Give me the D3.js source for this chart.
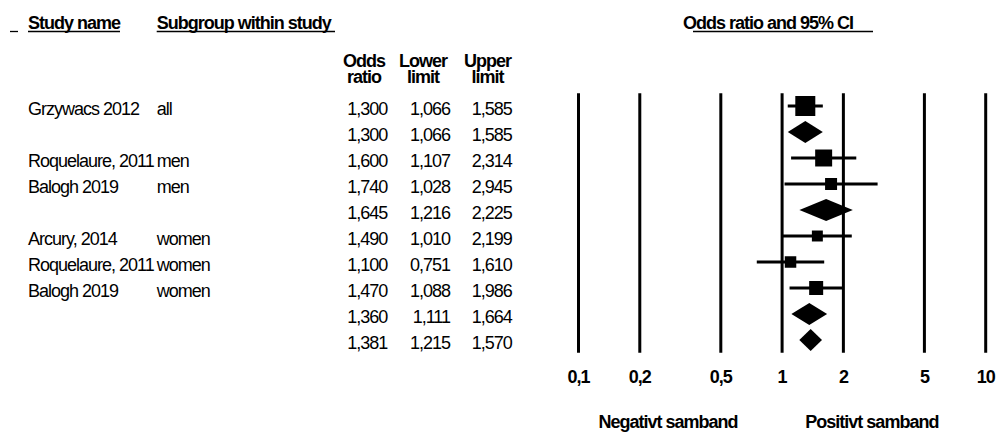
<!DOCTYPE html>
<html>
<head>
<meta charset="utf-8">
<script src="https://cdn.jsdelivr.net/npm/d3@7/dist/d3.min.js"></script>
<style>
  html, body { margin: 0; padding: 0; background: #fff; }
  svg { display: block; }
  text { font-family: "Liberation Sans", Arial, sans-serif; fill: #000; letter-spacing: -1px; }
</style>
</head>
<body>
<svg id="chart" width="997" height="432"></svg>
<script>
// Rows of the forest plot, top to bottom ("" = pooled subgroup / overall line)
const studyNames = ["Grzywacs 2012", "", "Roquelaure, 2011", "Balogh 2019", "", "Arcury, 2014", "Roquelaure, 2011", "Balogh 2019", "", ""];
const subgroups  = ["all", "", "men", "men", "", "women", "women", "women", "", ""];
const oddsRatio  = [1.300, 1.300, 1.600, 1.740, 1.645, 1.490, 1.100, 1.470, 1.360, 1.381];
const lowerLimit = [1.066, 1.066, 1.107, 1.028, 1.216, 1.010, 0.751, 1.088, 1.111, 1.215];
const upperLimit = [1.585, 1.585, 2.314, 2.945, 2.225, 2.199, 1.610, 1.986, 1.664, 1.570];
const isSummary  = [false, true, false, false, true, false, false, false, true, true];
// Relative study weight (largest = 100), shown as the box area
const relWeight  = [100, 0, 72, 36, 0, 30, 33, 49, 0, 0];
const tickValues = [0.1, 0.2, 0.5, 1, 2, 5, 10];
const tickLabels = ["0,1", "0,2", "0,5", "1", "2", "5", "10"];
const sideLabels = [
  { text: "Negativt samband", at: 0.275 },
  { text: "Positivt samband", at: 2.76 }
];

const svg = d3.select("#chart");
const nRows = oddsRatio.length;

const x = d3.scaleLog().domain([0.1, 10]).range([578.5, 985.7]);
const y = d3.scaleLinear().domain([0, nRows - 1]).range([106, 340]);
const box = d3.scaleSqrt().domain([0, 100]).range([0, 20]);
const fmt = v => d3.format(".3f")(v).replace(".", ",");

const txtDy = 9;

// ---- column headers ----
function underlinedHeader(label, xStart, yBase, lineFrom, lineTo) {
  svg.append("text").attr("x", xStart).attr("y", yBase)
    .attr("font-size", 18).attr("font-weight", "bold").text(label);
  svg.append("line").attr("x1", lineFrom).attr("x2", lineTo)
    .attr("y1", yBase + 2.5).attr("y2", yBase + 2.5)
    .attr("stroke", "#000").attr("stroke-width", 1.3);
}
svg.append("line").attr("x1", 10).attr("x2", 18).attr("y1", 31.5).attr("y2", 31.5)
  .attr("stroke", "#000").attr("stroke-width", 1.3);
underlinedHeader("Study name", 28, 29, 28, 120);
underlinedHeader("Subgroup within study", 156.7, 29, 156.7, 335);
underlinedHeader("Odds ratio and 95% CI", 683, 29, 693, 873);

const numCols = [
  { top: "Odds",  bottom: "ratio", center: 364,   right: 387.3, values: oddsRatio },
  { top: "Lower", bottom: "limit", center: 423,   right: 450,   values: lowerLimit },
  { top: "Upper", bottom: "limit", center: 487.5, right: 511.7, values: upperLimit }
];
numCols.forEach(c => {
  svg.append("text").attr("x", c.center).attr("y", 67).attr("text-anchor", "middle")
    .attr("font-size", 18).attr("font-weight", "bold").text(c.top);
  svg.append("text").attr("x", c.center).attr("y", 83).attr("text-anchor", "middle")
    .attr("font-size", 18).attr("font-weight", "bold").text(c.bottom);
  svg.append("g").selectAll("text").data(c.values).join("text")
    .attr("x", c.right).attr("y", (d, i) => y(i) + txtDy)
    .attr("text-anchor", "end").attr("font-size", 18)
    .text(d => fmt(d));
});

// ---- study / subgroup labels ----
svg.append("g").selectAll("text").data(studyNames).join("text")
  .attr("x", 28).attr("y", (d, i) => y(i) + txtDy)
  .attr("font-size", 18).text(d => d);
svg.append("g").selectAll("text").data(subgroups).join("text")
  .attr("x", 156.7).attr("y", (d, i) => y(i) + txtDy)
  .attr("font-size", 18).text(d => d);

// ---- reference lines at the axis ticks ----
svg.append("g").selectAll("line").data(tickValues).join("line")
  .attr("x1", d => x(d)).attr("x2", d => x(d))
  .attr("y1", 93.3).attr("y2", 352.7)
  .attr("stroke", "#000").attr("stroke-width", 3);

svg.append("g").selectAll("text").data(tickValues).join("text")
  .attr("x", d => x(d)).attr("y", 383)
  .attr("text-anchor", "middle").attr("font-size", 18).attr("font-weight", "bold")
  .text((d, i) => tickLabels[i]);

svg.append("g").selectAll("text").data(sideLabels).join("text")
  .attr("x", d => x(d.at)).attr("y", 428)
  .attr("text-anchor", "middle").attr("font-size", 18).attr("font-weight", "bold")
  .attr("letter-spacing", "-1.5px")
  .text(d => d.text);

// ---- study estimates: CI whiskers and weighted boxes ----
const rows = d3.range(nRows);
const studies = rows.filter(i => !isSummary[i]);
const pooled = rows.filter(i => isSummary[i]);

const g = svg.append("g");
g.selectAll("line.ci").data(studies).join("line").attr("class", "ci")
  .attr("x1", i => x(lowerLimit[i])).attr("x2", i => x(upperLimit[i]))
  .attr("y1", i => y(i)).attr("y2", i => y(i))
  .attr("stroke", "#000").attr("stroke-width", 3);
g.selectAll("rect.box").data(studies).join("rect").attr("class", "box")
  .attr("x", i => x(oddsRatio[i]) - box(relWeight[i]) / 2)
  .attr("y", i => y(i) - box(relWeight[i]) / 2)
  .attr("width", i => box(relWeight[i]))
  .attr("height", i => box(relWeight[i]))
  .attr("fill", "#000");

// ---- pooled estimates: diamonds ----
const half = 11;
g.selectAll("path.diamond").data(pooled).join("path").attr("class", "diamond")
  .attr("d", i => {
    const cy = y(i);
    return `M${x(lowerLimit[i])},${cy}L${x(oddsRatio[i])},${cy - half}` +
           `L${x(upperLimit[i])},${cy}L${x(oddsRatio[i])},${cy + half}Z`;
  })
  .attr("fill", "#000");
</script>
</body>
</html>
